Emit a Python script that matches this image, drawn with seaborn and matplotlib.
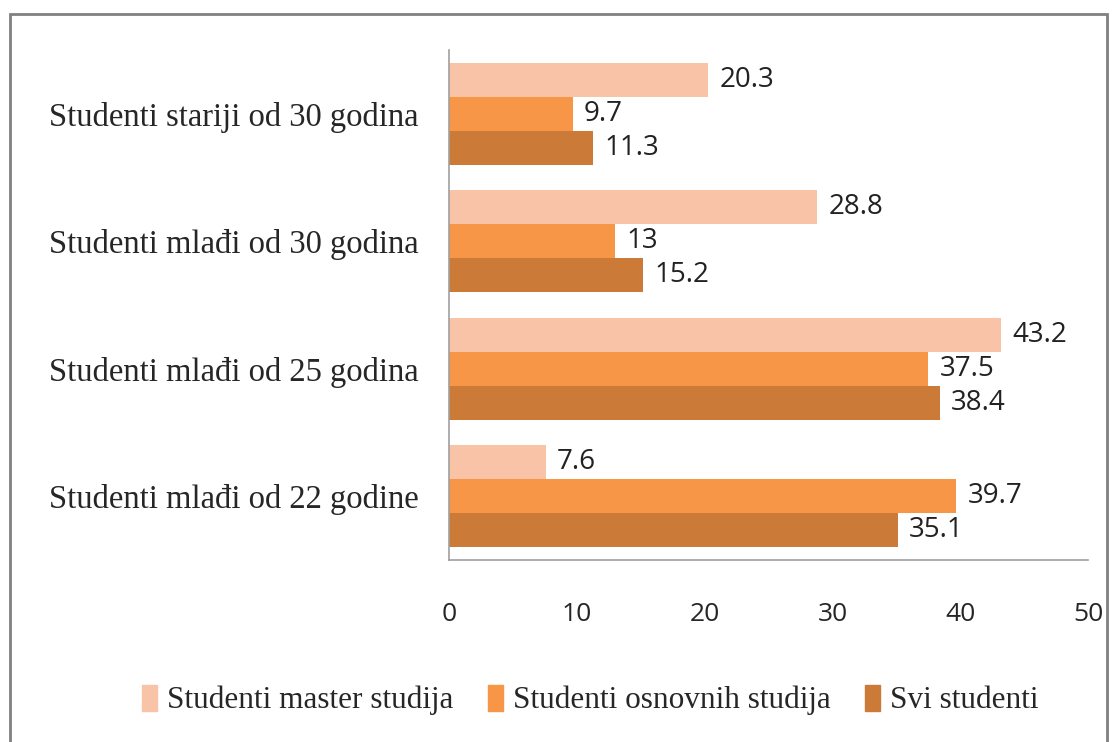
import pandas as pd
import matplotlib.pyplot as plt
import matplotlib.patches as mpatches
import seaborn as sns

# Categories (top to bottom) and series
categories = ['Studenti stariji od 30 godina', 'Studenti mlađi od 30 godina',
              'Studenti mlađi od 25 godina', 'Studenti mlađi od 22 godine']
series = ['Studenti master studija', 'Studenti osnovnih studija', 'Svi studenti']
master = [20.3, 28.8, 43.2, 7.6]
osnovni = [9.7, 13, 37.5, 39.7]
svi = [11.3, 15.2, 38.4, 35.1]
xticks = [0, 10, 20, 30, 40, 50]
colors = ['#F9C3A7', '#F79646', '#CC7A38']

rows = []
for s, vals in zip(series, [master, osnovni, svi]):
    for c, v in zip(categories, vals):
        rows.append({'kategorija': c, 'serija': s, 'vrijednost': v})
df = pd.DataFrame(rows)

sns.set_style('white')
fig = plt.figure(figsize=(11.17, 7.42), dpi=100)
ax = fig.add_axes([449 / 1117, 1 - 560 / 742, (1088 - 449) / 1117, 510 / 742])

sns.barplot(data=df, y='kategorija', x='vrijednost', hue='serija', order=categories,
            hue_order=series, palette=colors, orient='h', width=0.8, ax=ax,
            saturation=1, legend=False, linewidth=0)

for cont in ax.containers:
    labels = [f'{v:g}' for v in cont.datavalues]
    ax.bar_label(cont, labels=labels, padding=8, fontsize=20, family='Open Sans',
                 color='#222222')

ax.set_xlim(0, 50)
ax.set_xticks(xticks)
ax.set_xlabel('')
ax.set_ylabel('')
ax.tick_params(axis='x', length=0, pad=30, labelsize=19)
ax.tick_params(axis='y', length=0, pad=22, labelsize=23.5)
for lab in ax.get_xticklabels():
    lab.set_family('Open Sans')
for lab in ax.get_yticklabels():
    lab.set_family('Liberation Serif')

for side in ['top', 'right']:
    ax.spines[side].set_visible(False)
for side in ['left', 'bottom']:
    ax.spines[side].set_color('#A0A0A0')
    ax.spines[side].set_linewidth(1.2)

handles = [mpatches.Patch(color=c, label=s) for c, s in zip(colors, series)]
fig.legend(handles=handles, loc='center', bbox_to_anchor=(590 / 1117, 1 - 700 / 742),
           ncol=3, frameon=False, prop={'family': 'Liberation Serif', 'size': 22.5},
           handlelength=0.5, handleheight=0.9, handletextpad=0.3, columnspacing=1.1)

# outer frame around the chart
fig.patches.append(mpatches.Rectangle((10 / 1117, -0.01), 1097 / 1117, 1 - 14 / 742 + 0.01,
                                      transform=fig.transFigure, fill=False,
                                      edgecolor='#808080', linewidth=2))

fig.savefig('out.png', dpi=100)
